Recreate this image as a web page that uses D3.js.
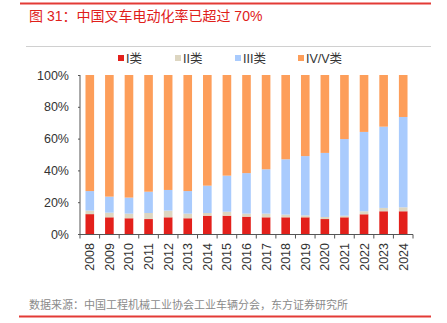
<!DOCTYPE html>
<html>
<head>
<meta charset="utf-8">
<script src="https://cdn.jsdelivr.net/npm/d3@7"></script>
<style>
  body { margin: 0; background: #fff; overflow: hidden; }
  svg { display: block; }
  text { font-family: "Liberation Sans", Arial, "Noto Sans CJK SC", sans-serif; }
</style>
</head>
<body>
<div id="chart"></div>
<script>
const years = ["2008","2009","2010","2011","2012","2013","2014","2015","2016","2017","2018","2019","2020","2021","2022","2023","2024"];
// share of each class, %
const class1 = [12.5, 10.5, 9.9, 9.4, 10.5, 9.9, 11.5, 11.5, 10.9, 10.5, 10.5, 10.5, 9.4, 10.5, 12.4, 14.3, 14.3];
const class2 = [2.2, 2.9, 2.9, 3.8, 4.2, 2.9, 1.7, 2.5, 1.9, 2.3, 1.7, 1.2, 1.3, 1.0, 1.9, 2.1, 2.5];
const class3 = [12.3, 10.1, 10.1, 13.4, 13.0, 14.2, 17.2, 22.7, 25.5, 27.9, 34.8, 37.3, 40.3, 48.2, 49.9, 51.1, 56.8];
const class45 = years.map((d, i) => 100 - class1[i] - class2[i] - class3[i]);
const seriesNames = ["I类", "II类", "III类", "IV/V类"];
const colors = ["#e3201b", "#ddd6c1", "#a9cbfd", "#fd9e5a"];
const yTicks = [0, 20, 40, 60, 80, 100];

const width = 447, height = 323;
const margin = { top: 75, right: 34, bottom: 89, left: 80 };

const svg = d3.select("#chart").append("svg")
  .attr("width", width)
  .attr("height", height);

// top rule + title
svg.append("rect").attr("x", 20).attr("y", 2.5).attr("width", 411).attr("height", 2).attr("fill", "#e33b36");
svg.append("text")
  .attr("x", 29).attr("y", 21)
  .attr("fill", "#e0201a")
  .style("font-size", "14px")
  .text("图 31：中国叉车电动化率已超过 70%");
svg.append("line")
  .attr("x1", 26).attr("x2", 431).attr("y1", 46.5).attr("y2", 46.5)
  .attr("stroke", "#d0d0d0");

// legend
const legendX = [118, 175, 235, 298];
svg.selectAll(".lg-box")
  .data(seriesNames)
  .join("rect")
  .attr("class", "lg-box")
  .attr("x", (d, i) => legendX[i]).attr("y", 55)
  .attr("width", 6).attr("height", 6)
  .attr("fill", (d, i) => colors[i]);
svg.selectAll(".lg-text")
  .data(seriesNames)
  .join("text")
  .attr("class", "lg-text")
  .attr("x", (d, i) => legendX[i] + 8).attr("y", 62.5)
  .attr("fill", "#333").style("font-size", "12.5px")
  .text(d => d);

// scales in page coordinates
const x = d3.scaleBand().domain(years)
  .range([margin.left, width - margin.right])
  .paddingInner(0.56).paddingOuter(0.28);
const y = d3.scaleLinear().domain([0, 100])
  .range([height - margin.bottom, margin.top]);

const table = years.map((yr, i) => ({
  year: yr, s0: class1[i], s1: class2[i], s2: class3[i], s3: class45[i]
}));
const stack = d3.stack().keys(["s0", "s1", "s2", "s3"])(table);

svg.append("g").selectAll(".layer")
  .data(stack)
  .join("g")
  .attr("class", "layer")
  .attr("fill", (d, i) => colors[i])
  .selectAll("rect")
  .data(d => d)
  .join("rect")
  .attr("x", d => x(d.data.year))
  .attr("width", x.bandwidth())
  .attr("y", d => y(d[1]))
  .attr("height", d => y(d[0]) - y(d[1]));

// y axis
svg.append("line")
  .attr("x1", margin.left).attr("x2", margin.left)
  .attr("y1", y(100)).attr("y2", y(0))
  .attr("stroke", "#555");
svg.selectAll(".ytick")
  .data(yTicks)
  .join("line")
  .attr("class", "ytick")
  .attr("x1", margin.left - 2).attr("x2", margin.left)
  .attr("y1", d => y(d) + 0.5).attr("y2", d => y(d) + 0.5)
  .attr("stroke", "#555");
svg.selectAll(".ylabel")
  .data(yTicks)
  .join("text")
  .attr("class", "ylabel")
  .attr("x", margin.left - 11)
  .attr("y", d => y(d) + 4.5)
  .attr("text-anchor", "end")
  .attr("fill", "#333")
  .style("font-size", "12.5px")
  .text(d => d + "%");

// x axis, ticks at band edges
const base = y(0) + 0.5;
const step = x.step();
const x0 = x(years[0]) - x.paddingOuter() * step;
svg.append("line")
  .attr("x1", margin.left).attr("x2", width - margin.right)
  .attr("y1", base).attr("y2", base)
  .attr("stroke", "#555");
svg.selectAll(".edge")
  .data(d3.range(years.length + 1))
  .join("line")
  .attr("class", "edge")
  .attr("x1", i => x0 + i * step).attr("x2", i => x0 + i * step)
  .attr("y1", base).attr("y2", base + 4)
  .attr("stroke", "#555");
svg.selectAll(".yl")
  .data(years)
  .join("text")
  .attr("class", "yl")
  .attr("x", d => x(d) + x.bandwidth() / 2 + 4.5)
  .attr("y", base + 8.5)
  .attr("transform", d => `rotate(-90,${x(d) + x.bandwidth() / 2 + 4.5},${base + 8.5})`)
  .attr("text-anchor", "end")
  .attr("fill", "#333")
  .style("font-size", "12.5px")
  .text(d => d);

// footer
svg.append("text")
  .attr("x", 29).attr("y", 308.5)
  .attr("fill", "#8a8a8a")
  .style("font-size", "11px")
  .text("数据来源：中国工程机械工业协会工业车辆分会，东方证券研究所");
svg.append("rect").attr("x", 19).attr("y", 315.5).attr("width", 412).attr("height", 2).attr("fill", "#e33b36");
</script>
</body>
</html>
